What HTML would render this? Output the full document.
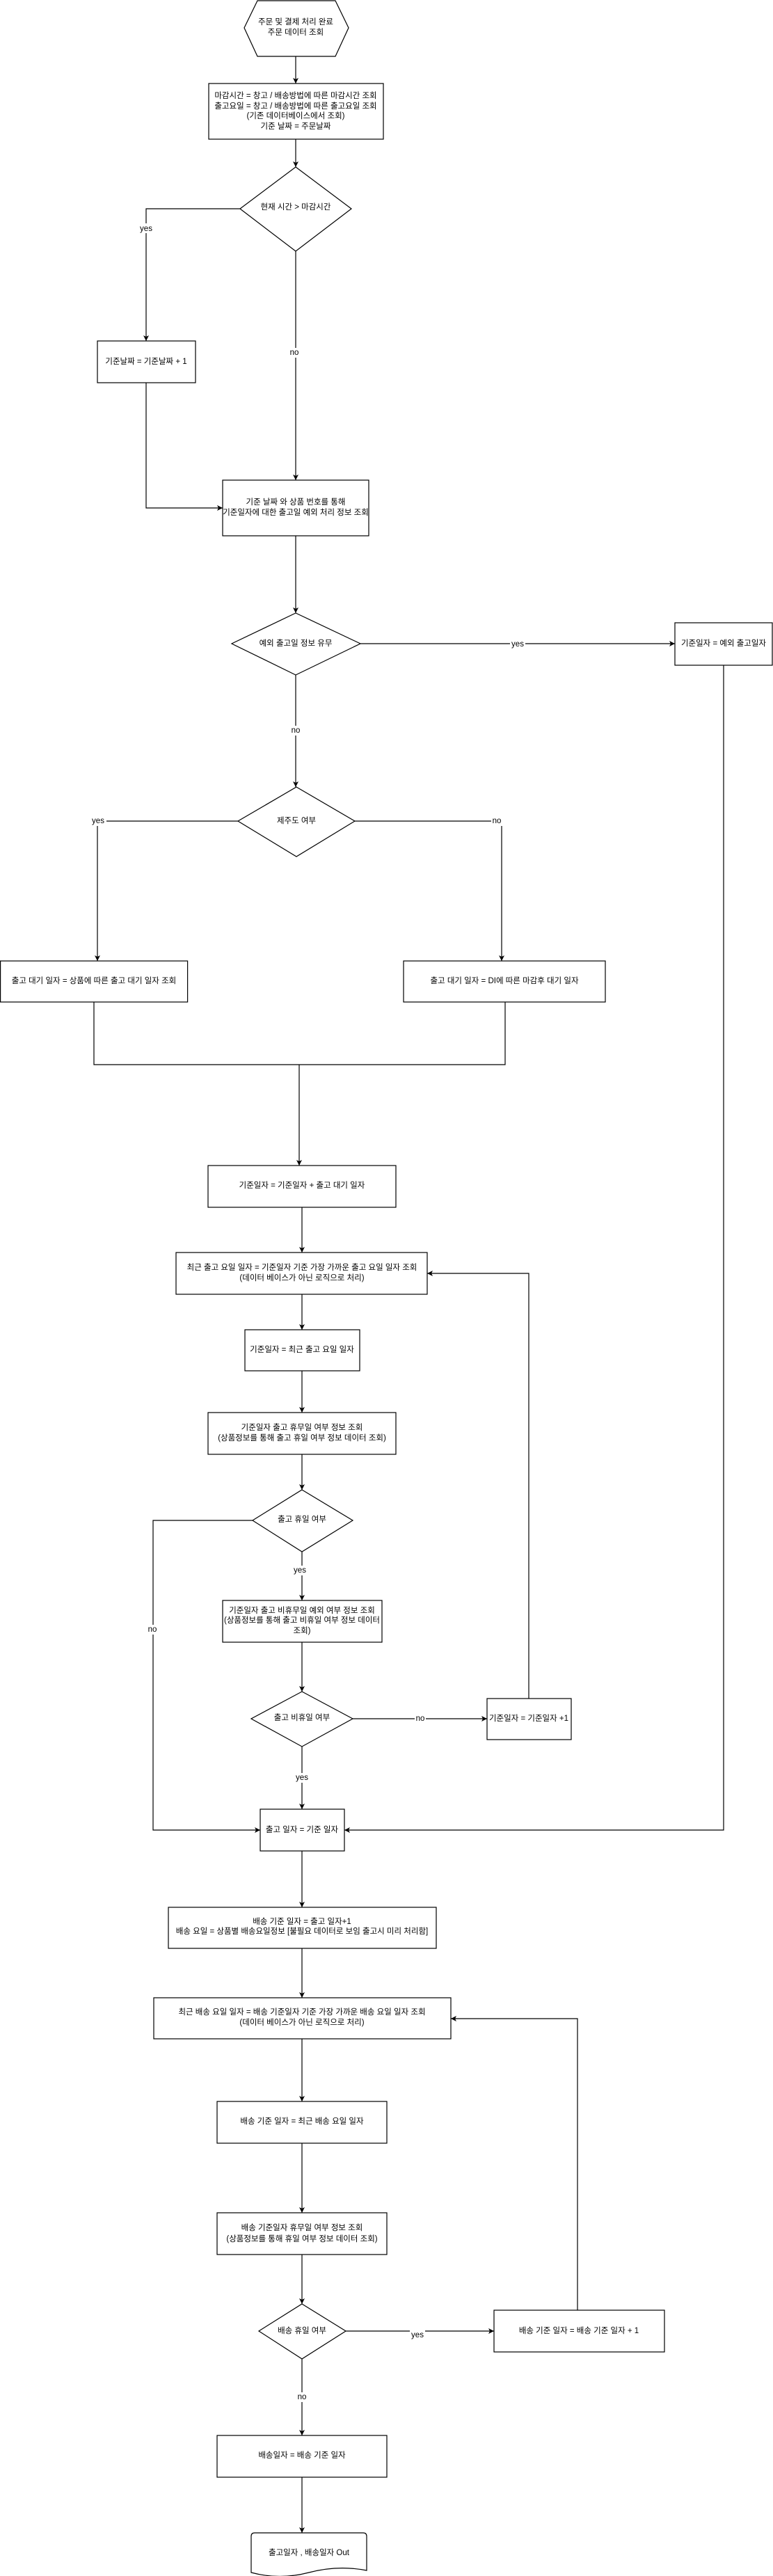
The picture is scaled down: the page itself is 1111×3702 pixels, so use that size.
<!DOCTYPE html>
<html><head><meta charset="utf-8"><style>
html,body{margin:0;padding:0;background:#fff;}
svg{display:block;}
text{font-family:"Liberation Sans","Noto Sans CJK KR",sans-serif;font-size:11.5px;fill:#000;text-anchor:middle;dominant-baseline:middle;}
.s{fill:#fff;stroke:#000;stroke-width:1.2;}
.l{fill:none;stroke:#000;stroke-width:1.2;}
.lb{fill:#fff;}
</style></head><body>
<svg width="1111" height="3702" viewBox="0 0 1111 3702" xmlns="http://www.w3.org/2000/svg">
<defs><marker id="a" markerWidth="10" markerHeight="10" refX="8" refY="4" orient="auto" markerUnits="userSpaceOnUse"><path d="M0,0 L8,4 L0,8 L2,4 Z" fill="#000"/></marker></defs>

<!-- connectors -->
<g class="l" marker-end="url(#a)">
<path d="M425,81 V120"/>
<path d="M425,200 V240"/>
<path d="M345,300 H210 V490"/>
<path d="M425,361 V690"/>
<path d="M210,550 V730 H320"/>
<path d="M425,770 V881"/>
<path d="M518,925 H970"/>
<path d="M425,970 V1131"/>
<path d="M342,1180 H140 V1381"/>
<path d="M510,1180 H721 V1381"/>
<path d="M430,1530 V1675"/>
<path d="M434,1735 V1800"/>
<path d="M434,1860 V1911"/>
<path d="M434,1970 V2030"/>
<path d="M434,2090 V2141"/>
<path d="M434,2230 V2300"/>
<path d="M434,2360 V2431"/>
<path d="M507,2470 H700"/>
<path d="M760,2441 V1830 H614"/>
<path d="M434,2510 V2600"/>
<path d="M363,2185 H220 V2630 H374"/>
<path d="M1040,956 V2630 H495"/>
<path d="M434,2660 V2741"/>
<path d="M434,2800 V2871"/>
<path d="M434,2930 V3020"/>
<path d="M434,3080 V3180"/>
<path d="M434,3240 V3311"/>
<path d="M497,3350 H710"/>
<path d="M830,3320 V2901 H648"/>
<path d="M434,3390 V3500"/>
<path d="M434,3560 V3640"/>
</g>
<g class="l">
<path d="M135,1440 V1530 H726 V1440"/>
</g>

<!-- connector labels -->
<rect class="lb" x="200" y="321" width="20" height="14"/><text x="210" y="329">yes</text>
<rect class="lb" x="417" y="500" width="16" height="14"/><text x="423" y="507">no</text>
<rect class="lb" x="733" y="918" width="22" height="14"/><text x="744" y="926">yes</text>
<rect class="lb" x="417" y="1043" width="16" height="14"/><text x="425" y="1050">no</text>
<rect class="lb" x="131" y="1173" width="22" height="14"/><text x="141" y="1180">yes</text>
<rect class="lb" x="706" y="1173" width="16" height="14"/><text x="714" y="1180">no</text>
<rect class="lb" x="424" y="2250" width="22" height="14"/><text x="431" y="2257">yes</text>
<rect class="lb" x="212" y="2335" width="16" height="14"/><text x="219" y="2342">no</text>
<rect class="lb" x="596" y="2463" width="16" height="14"/><text x="604" y="2470">no</text>
<rect class="lb" x="423" y="2548" width="22" height="14"/><text x="434" y="2555">yes</text>
<rect class="lb" x="589" y="3349" width="22" height="14"/><text x="600" y="3356">yes</text>
<rect class="lb" x="426" y="3438" width="16" height="14"/><text x="434" y="3445">no</text>

<!-- shapes -->
<polygon class="s" points="370,1 482,1 501,40 482,81 370,81 351,40"/>
<text x="425" y="32">주문 및 결제 처리 완료</text><text x="425" y="47">주문 데이터 조회</text>

<rect class="s" x="300" y="120" width="251" height="80"/>
<text x="425" y="138">마감시간 = 창고 / 배송방법에 따른 마감시간 조회</text>
<text x="425" y="153">출고요일 = 창고 / 배송방법에 따른 출고요일 조회</text>
<text x="425" y="167">(기존 데이터베이스에서 조회)</text>
<text x="425" y="182">기준 날짜 = 주문날짜</text>

<polygon class="s" points="425,240 505,300 425,361 345,300"/>
<text x="425" y="298">현재 시간 &gt; 마감시간</text>

<rect class="s" x="140" y="490" width="141" height="60"/>
<text x="210" y="520">기준날짜 = 기준날짜 + 1</text>

<rect class="s" x="320" y="690" width="210" height="80"/>
<text x="425" y="722">기준 날짜 와 상품 번호를 통해</text>
<text x="425" y="737">기준일자에 대한 출고일 예외 처리 정보 조회</text>

<polygon class="s" points="425,881 518,925 425,970 333,925"/>
<text x="425" y="925">예외 출고일 정보 유무</text>

<rect class="s" x="970" y="895" width="140" height="61"/>
<text x="1040" y="925">기준일자 = 예외 출고일자</text>

<polygon class="s" points="426,1131 510,1180 426,1231 342,1180"/>
<text x="426" y="1180">제주도 여부</text>

<rect class="s" x="0.6" y="1381" width="269" height="59"/>
<text x="135" y="1410">출고 대기 일자 = 상품에 따른 출고 대기 일자 조회</text>
<rect class="s" x="580" y="1381" width="290" height="59"/>
<text x="725" y="1410">출고 대기 일자 = DI에 따른 마감후 대기 일자</text>

<rect class="s" x="299" y="1675" width="270" height="60"/>
<text x="434" y="1704">기준일자 = 기준일자 + 출고 대기 일자</text>

<rect class="s" x="253" y="1800" width="361" height="60"/>
<text x="434" y="1822">최근 출고 요일 일자 = 기준일자 기준 가장 가까운 출고 요일 일자 조회</text>
<text x="434" y="1837">(데이터 베이스가 아닌 로직으로 처리)</text>

<rect class="s" x="352" y="1911" width="165" height="59"/>
<text x="434" y="1940">기준일자 = 최근 출고 요일 일자</text>

<rect class="s" x="299" y="2030" width="270" height="60"/>
<text x="434" y="2052">기준일자 출고 휴무일 여부 정보 조회</text>
<text x="434" y="2067">(상품정보를 통해  출고 휴일 여부 정보 데이터 조회)</text>

<polygon class="s" points="434,2141 507,2185 434,2230 363,2185"/>
<text x="434" y="2184">출고 휴일 여부</text>

<rect class="s" x="320" y="2300" width="229" height="60"/>
<text x="434" y="2315">기준일자 출고 비휴무일 예외 여부 정보 조회</text>
<text x="434" y="2329">(상품정보를 통해 출고 비휴일 여부 정보 데이터</text>
<text x="434" y="2344">조회)</text>

<polygon class="s" points="434,2431 507,2470 434,2510 361,2470"/>
<text x="434" y="2469">출고 비휴일 여부</text>

<rect class="s" x="700" y="2441" width="121" height="59"/>
<text x="760" y="2470">기준일자 = 기준일자 +1</text>

<rect class="s" x="374" y="2600" width="121" height="60"/>
<text x="434" y="2630">출고 일자 = 기준 일자</text>

<rect class="s" x="242" y="2741" width="385" height="59"/>
<text x="434" y="2762">배송 기준 일자 = 출고 일자+1</text>
<text x="434" y="2776">배송 요일 = 상품별 배송요일정보 [불필요 데이터로 보임 출고시 미리 처리함]</text>

<rect class="s" x="221" y="2871" width="427" height="59"/>
<text x="434" y="2892">최근 배송 요일 일자 = 배송 기준일자 기준 가장 가까운 배송 요일 일자 조회</text>
<text x="434" y="2907">(데이터 베이스가 아닌 로직으로 처리)</text>

<rect class="s" x="312" y="3020" width="244" height="60"/>
<text x="434" y="3049">배송 기준 일자  =  최근 배송 요일 일자</text>

<rect class="s" x="312" y="3180" width="244" height="60"/>
<text x="434" y="3202">배송 기준일자 휴무일 여부 정보 조회</text>
<text x="434" y="3218">(상품정보를 통해 휴일 여부 정보 데이터 조회)</text>

<polygon class="s" points="434,3311 497,3350 434,3390 372,3350"/>
<text x="434" y="3350">배송 휴일 여부</text>

<rect class="s" x="710" y="3320" width="245" height="60"/>
<text x="832" y="3350">배송 기준 일자  =  배송 기준 일자 + 1</text>

<rect class="s" x="312" y="3500" width="244" height="60"/>
<text x="434" y="3529">배송일자 = 배송 기준 일자</text>

<path class="s" d="M366,3640 H522 Q527,3640 527,3645 V3694 Q486,3686 444,3697 Q402,3708 361,3697 V3645 Q361,3640 366,3640 Z"/>
<text x="444" y="3669">출고일자 , 배송일자 Out</text>
</svg>
</body></html>
